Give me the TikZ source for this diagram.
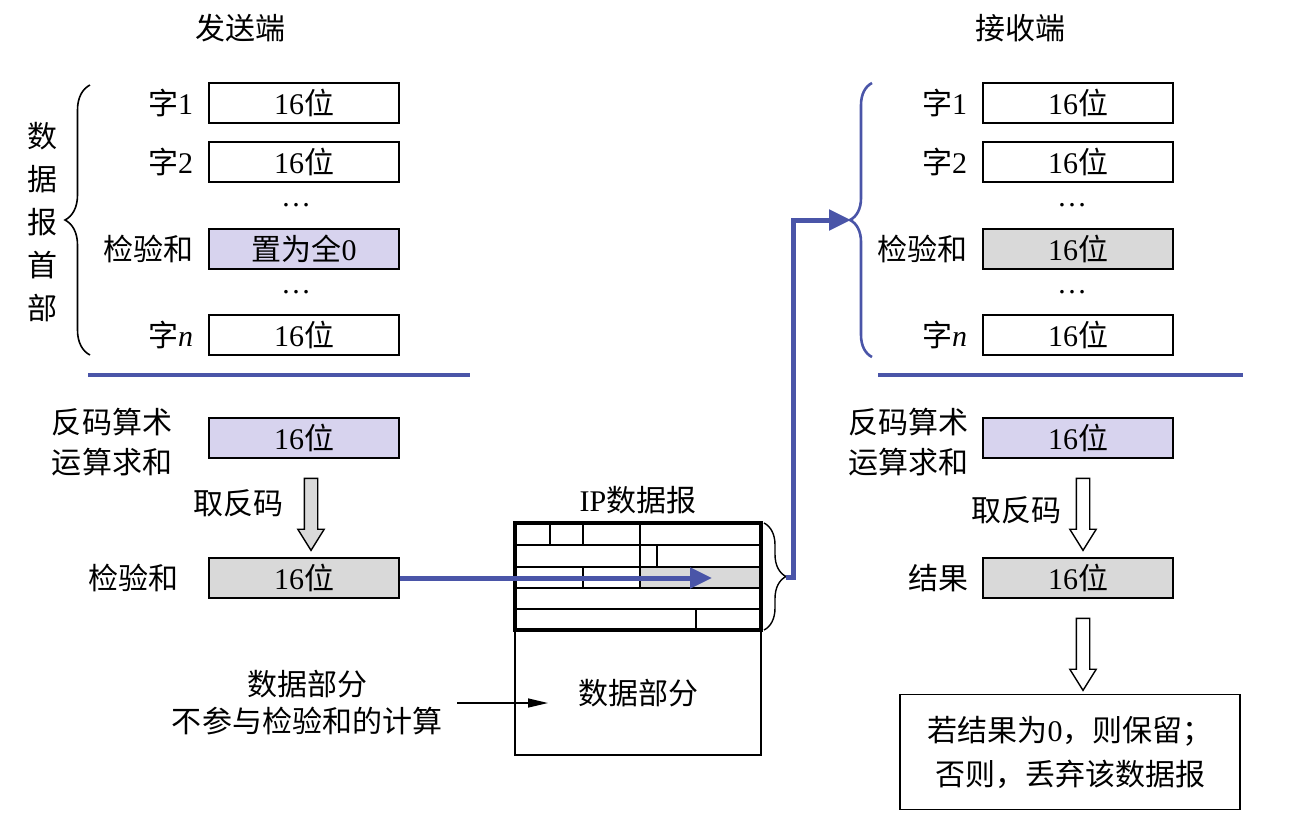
\documentclass[tikz,border=0pt]{standalone}
\usepackage{fontspec}
\setmainfont{Liberation Serif}
\newfontfamily\cjk{Noto Sans CJK SC}
\newcommand{\zh}[1]{{\cjk #1}}
\definecolor{linkblue}{HTML}{4A55A8}
\definecolor{sumfill}{HTML}{D7D3EE}
\definecolor{greyfill}{HTML}{D9D9D9}
\usetikzlibrary{arrows.meta,positioning,shapes.arrows,decorations.pathreplacing}

\begin{document}
\begin{tikzpicture}[x=0.5bp,y=-0.5bp,>=Stealth,
  every node/.style={font=\fontsize{15bp}{20bp}\selectfont},
  zhtext/.style={font=\cjk\fontsize{15bp}{20bp}\selectfont,align=center},
  wordbox/.style={draw,line width=0.8bp,minimum width=95bp,minimum height=20bp,inner sep=0pt},
  hollowarrow/.style={draw,line width=0.7bp,single arrow,rotate=-90,minimum height=36bp,
    minimum width=12.5bp,single arrow head extend=3.25bp,single arrow tip angle=64,inner sep=3bp},
  bluelink/.style={linkblue,line width=2.5bp,-{Triangle[length=11bp,width=10bp]}},
  bracket/.style={decorate,decoration={brace,amplitude=#1}}]
\useasboundingbox (0,0) rectangle (1297,827);

% sender side
\node (sendT) at (240,28) {\zh{发送端}};
\node[wordbox] (sw1) at (304,103) {16\zh{位}};
\node[wordbox] (sw2) at (304,162) {16\zh{位}};
\node (sdots1) at (296,205) {\ldots};
\node[wordbox,fill=sumfill] (sck) at (304,249) {\zh{置为全}0};
\node (sdots2) at (296,292) {\ldots};
\node[wordbox] (swn) at (304,335) {16\zh{位}};
\node[left=4bp of sw1] (sl1) {\zh{字}1};
\node[left=4bp of sw2] (sl2) {\zh{字}2};
\node[left=4bp of sck] (slck) {\zh{检验和}};
\node[left=4bp of swn] (sln) {\zh{字}\textit{n}};
\draw[bracket=12.5bp,line width=0.8bp] (90,355) -- (90,85);
\node[zhtext,font=\cjk\fontsize{15bp}{21.5bp}\selectfont] (hdrT) at (42,222) {数\\据\\报\\首\\部};
\draw[linkblue,line width=2bp] (88,375) -- (470,375);

\node[zhtext] (sopL) at (112,442) {反码算术\\运算求和};
\node[wordbox,fill=sumfill] (ssum) at (304,438) {16\zh{位}};
\node[hollowarrow,fill=greyfill] (sarr) at (311,509) {};
\node (sinv) at (238,503) {\zh{取反码}};
\node[wordbox,fill=greyfill] (sres) at (304,578) {16\zh{位}};
\node (sresL) at (133,578) {\zh{检验和}};

% IP datagram
\node (ipT) at (638,500) {IP\zh{数据报}};
\fill[greyfill] (640,567) rectangle (761,588);
\draw[line width=0.7bp] (515,545) -- (761,545) (515,567) -- (761,567)
  (515,588) -- (761,588) (515,609) -- (761,609);
\draw[line width=0.7bp] (550,523) -- (550,545) (583,523) -- (583,545) (640,523) -- (640,545)
  (640,545) -- (640,567) (657,545) -- (657,567)
  (583,567) -- (583,588) (640,567) -- (640,588)
  (696,609) -- (696,630);
\draw[line width=0.8bp] (515,630) rectangle (761,755);
\draw[line width=2bp] (515,523) rectangle (761,630);
\node (ipdata) at (638,693) {\zh{数据部分}};
\coordinate (ipck) at (712,578);
\draw[bluelink] (sres.east) -- (ipck);

\node[zhtext,font=\cjk\fontsize{15bp}{18.5bp}\selectfont] (dpL) at (307,703) {数据部分\\不参与检验和的计算};
\coordinate (dpin) at (548,703);
\draw[-{Triangle[length=10bp,width=4.5bp]},line width=0.7bp,shorten <=4bp] (dpL.east) -- (dpin);

\draw[bracket=11bp,line width=0.7bp] (764,523) -- (764,630);
\coordinate (hdtip) at (786,577);

% receiver side
\node (recvT) at (1020,28) {\zh{接收端}};
\node[wordbox] (rw1) at (1078,103) {16\zh{位}};
\node[wordbox] (rw2) at (1078,162) {16\zh{位}};
\node (rdots1) at (1072,205) {\ldots};
\node[wordbox,fill=greyfill] (rck) at (1078,249) {16\zh{位}};
\node (rdots2) at (1072,292) {\ldots};
\node[wordbox] (rwn) at (1078,335) {16\zh{位}};
\node[left=4bp of rw1] (rl1) {\zh{字}1};
\node[left=4bp of rw2] (rl2) {\zh{字}2};
\node[left=4bp of rck] (rlck) {\zh{检验和}};
\node[left=4bp of rwn] (rln) {\zh{字}\textit{n}};
\draw[bracket=11bp,linkblue,line width=1.3bp] (872,357) -- (872,83);
\coordinate (rbtip) at (851,220);
\draw[bluelink] (hdtip) -- ++(7,0) |- (rbtip);
\draw[linkblue,line width=2bp] (878,375) -- (1243,375);

\node[zhtext] (ropL) at (908,442) {反码算术\\运算求和};
\node[wordbox,fill=sumfill] (rsum) at (1078,438) {16\zh{位}};
\node[hollowarrow,fill=white] (rarr1) at (1083,509) {};
\node (rinv) at (1016,510) {\zh{取反码}};
\node[wordbox,fill=greyfill] (rres) at (1078,578) {16\zh{位}};
\node (rresL) at (938,578) {\zh{结果}};
\node[hollowarrow,fill=white] (rarr2) at (1083,649) {};
\node[zhtext,draw,line width=0.8bp,
  minimum width=170bp,minimum height=57.5bp] (verdict) at (1070,752)
  {若结果为{\rmfamily 0}，则保留；\\[2bp]否则，丢弃该数据报};
\end{tikzpicture}
\end{document}
